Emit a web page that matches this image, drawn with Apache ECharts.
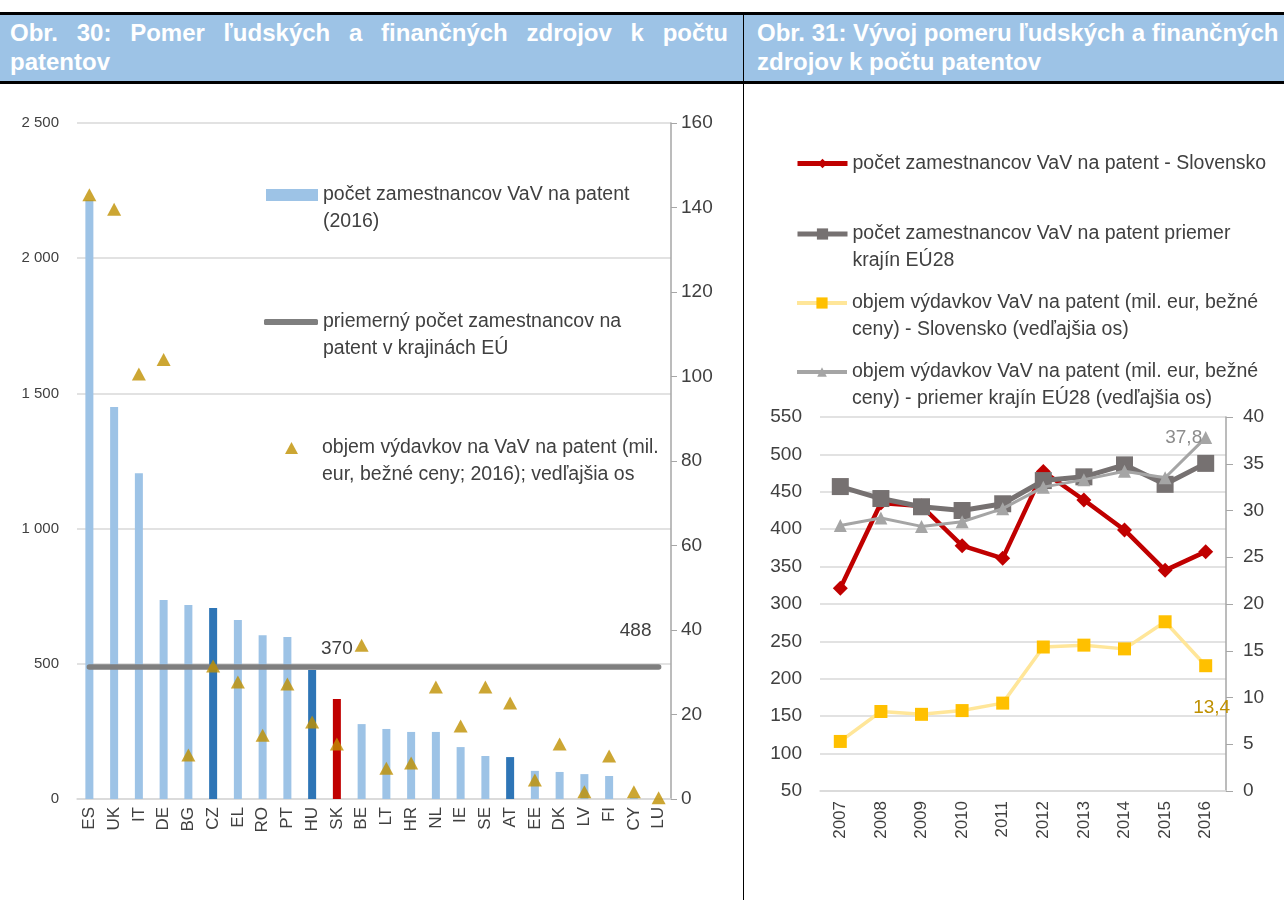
<!DOCTYPE html>
<html>
<head>
<meta charset="utf-8">
<script src="https://cdn.jsdelivr.net/npm/echarts@6/dist/echarts.min.js"></script>
<style>
  html, body { margin: 0; padding: 0; background: #fff; }
  body { width: 1284px; height: 900px; position: relative; overflow: hidden;
         font-family: "Liberation Sans", Arial, sans-serif; }
  .head { position: absolute; top: 12px; left: 0; width: 1284px; height: 66px;
          background: #9dc3e6; border-top: 3px solid #000; border-bottom: 3px solid #000; }
  .title { position: absolute; top: 3px; color: #fff; font-weight: bold; font-size: 24px; line-height: 29px; }
  .t1 { left: 10px; width: 718px; }
  .t1 .l1 { text-align: justify; text-align-last: justify; }
  .t2 { left: 757px; width: 527px; white-space: nowrap; }
  .divider { position: absolute; left: 743px; top: 12px; width: 1px; height: 888px; background: #000; }
  #chart { position: absolute; left: 0; top: 0; width: 1284px; height: 900px; }
</style>
</head>
<body>
<div id="chart"></div>
<div class="head">
  <div class="title t1"><div class="l1">Obr. 30: Pomer ľudských a finančných zdrojov k počtu</div><div>patentov</div></div>
  <div class="title t2">Obr. 31: Vývoj pomeru ľudských a finančných<br>zdrojov k počtu patentov</div>
</div>
<div class="divider"></div>
<script>
// Obr. 30 - krajiny EÚ, 2016
const countries = ['ES', 'UK', 'IT', 'DE', 'BG', 'CZ', 'EL', 'RO', 'PT', 'HU', 'SK', 'BE',
  'LT', 'HR', 'NL', 'IE', 'SE', 'AT', 'EE', 'DK', 'LV', 'FI', 'CY', 'LU']
const staffPerPatent = [2215, 1450, 1205, 736, 717, 706, 662, 606, 599, 477, 370, 277,
  259, 248, 248, 192, 159, 155, 104, 100, 92, 85, 5, 0]
const spendPerPatent = [143, 139.6, 100.6, 104, 10.4, 31.5, 27.7, 15.1, 27.2, 18.2, 13, 36.4,
  7.3, 8.5, 26.5, 17.3, 26.5, 22.7, 4.5, 13, 1.7, 10.2, 1.7, 0.3]
const euAverageStaff = 488
const darkBlueCountries = ['CZ', 'HU', 'AT']
const slovakia = 'SK'

// Obr. 31 - vývoj 2007-2016
const years = ['2007', '2008', '2009', '2010', '2011', '2012', '2013', '2014', '2015', '2016']
const staffSK = [321, 435, 431, 378, 361, 477, 439, 399, 345, 370]
const staffEU = [457, 441, 430, 425, 434, 465, 470, 486, 460, 488]
const spendSK = [5.3, 8.5, 8.2, 8.6, 9.4, 15.4, 15.6, 15.2, 18.1, 13.4]
const spendEU = [28.4, 29.2, 28.3, 28.8, 30.2, 32.5, 33.3, 34.2, 33.5, 37.8]

const nameBar = 'počet zamestnancov VaV na patent\n(2016)'
const nameAvg = 'priemerný počet zamestnancov na\npatent v krajinách EÚ'
const nameTri = 'objem výdavkov na VaV na patent (mil.\neur, bežné ceny; 2016); vedľajšia os'
const nameSK = 'počet zamestnancov VaV na patent - Slovensko'
const nameEU = 'počet zamestnancov VaV na patent priemer\nkrajín EÚ28'
const nameSpSK = 'objem výdavkov VaV na patent (mil. eur, bežné\nceny) - Slovensko (vedľajšia os)'
const nameSpEU = 'objem výdavkov VaV na patent (mil. eur, bežné\nceny) - priemer krajín EÚ28 (vedľajšia os)'

const TXT = '#404040'
const LH = 27

// empty first line keeps the legend icon level with the first text line
const twoLine = name => '\n' + name

const legendBase = (extraLeft) => ({
  padding: 0, selectedMode: false,
  textStyle: { color: TXT, fontSize: 19.5, lineHeight: LH, padding: [0, 0, 0, extraLeft || 0] }
})

const chart = echarts.init(document.getElementById('chart'))

const fmtSpace = v => String(v).replace(/\B(?=(\d{3})+(?!\d))/g, ' ')
const fmtComma = p => String(p.value).replace('.', ',')

const option = {
  animation: false,
  textStyle: { fontFamily: '"Liberation Sans", Arial, sans-serif' },
  grid: [
    { left: 77, top: 123, width: 594, height: 676 },
    { left: 820, top: 417, width: 406, height: 374 }
  ],
  legend: [
    Object.assign(legendBase(), { data: [{ name: nameBar, icon: 'rect' }], left: 266, top: 154.5,
      itemWidth: 52, itemHeight: 12, formatter: twoLine }),
    Object.assign(legendBase(), { data: [{ name: nameAvg, icon: 'roundRect' }], left: 264, top: 281.5,
      itemWidth: 54, itemHeight: 6, formatter: twoLine }),
    Object.assign(legendBase(19), { data: [{ name: nameTri, icon: 'triangle' }], left: 285, top: 407.5,
      itemWidth: 13, itemHeight: 12, formatter: twoLine }),
    Object.assign(legendBase(), { data: [nameSK], left: 795, top: 150, itemWidth: 50, itemHeight: 12,
      lineStyle: { width: 5 } }),
    Object.assign(legendBase(), { data: [nameEU], left: 795, top: 193.5, itemWidth: 50, itemHeight: 14,
      lineStyle: { width: 5 }, formatter: twoLine }),
    Object.assign(legendBase(), { data: [nameSpSK], left: 795, top: 262.5, itemWidth: 50, itemHeight: 14,
      lineStyle: { width: 4 }, formatter: twoLine }),
    Object.assign(legendBase(), { data: [nameSpEU], left: 795, top: 331.5, itemWidth: 50, itemHeight: 12,
      lineStyle: { width: 4 }, formatter: twoLine })
  ],
  xAxis: [
    {
      gridIndex: 0, type: 'category', data: countries,
      axisLine: { lineStyle: { color: '#d9d9d9', width: 1.5 } },
      axisTick: { show: false },
      axisLabel: { rotate: 90, color: TXT, fontSize: 17, margin: 8, interval: 0 }
    },
    {
      gridIndex: 1, type: 'category', data: years,
      axisLine: { lineStyle: { color: '#d9d9d9', width: 1.5 } },
      axisTick: { show: false },
      axisLabel: { rotate: 90, color: TXT, fontSize: 17, margin: 10, interval: 0 }
    }
  ],
  yAxis: [
    {
      gridIndex: 0, type: 'value', min: 0, max: 2500, interval: 500,
      axisLine: { show: false }, axisTick: { show: false },
      splitLine: { lineStyle: { color: '#d9d9d9', width: 1.5 } },
      axisLabel: { color: TXT, fontSize: 15, margin: 18, formatter: fmtSpace }
    },
    {
      gridIndex: 0, type: 'value', min: 0, max: 160, interval: 20, position: 'right',
      axisLine: { show: true, lineStyle: { color: '#a6a6a6', width: 1.5 } },
      axisTick: { show: true, length: 6, lineStyle: { color: '#a6a6a6' } },
      splitLine: { show: false },
      axisLabel: { color: TXT, fontSize: 19, margin: 10 }
    },
    {
      gridIndex: 1, type: 'value', min: 50, max: 550, interval: 50,
      axisLine: { show: false }, axisTick: { show: false },
      splitLine: { lineStyle: { color: '#d9d9d9', width: 1.5 } },
      axisLabel: { color: TXT, fontSize: 19, margin: 18 }
    },
    {
      gridIndex: 1, type: 'value', min: 0, max: 40, interval: 5, position: 'right',
      axisLine: { show: true, lineStyle: { color: '#a6a6a6', width: 1.5 } },
      axisTick: { show: true, length: 7, lineStyle: { color: '#a6a6a6' } },
      splitLine: { show: false },
      axisLabel: { color: TXT, fontSize: 19, margin: 17 }
    }
  ],
  series: [
    {
      name: nameBar, type: 'bar', xAxisIndex: 0, yAxisIndex: 0, barWidth: 8,
      itemStyle: { color: '#9dc3e6' },
      data: staffPerPatent.map((v, i) => {
        const c = countries[i]
        if (c === slovakia) {
          return { value: v, itemStyle: { color: '#c00000' },
            label: { show: true, position: 'top', offset: [0, -36], color: TXT, fontSize: 19 } }
        }
        if (darkBlueCountries.includes(c)) return { value: v, itemStyle: { color: '#2e75b6' } }
        return v
      })
    },
    {
      name: nameAvg, type: 'line', xAxisIndex: 0, yAxisIndex: 0,
      symbol: 'circle', symbolSize: 0.1, showSymbol: true,
      lineStyle: { color: '#7f7f7f', width: 5.5, cap: 'round' }, itemStyle: { color: '#7f7f7f' },
      data: countries.map((c, i) => i === countries.length - 1
        ? { value: euAverageStaff,
            label: { show: true, position: 'top', offset: [-23, -22], color: TXT, fontSize: 19 } }
        : euAverageStaff)
    },
    {
      name: nameTri, type: 'scatter', xAxisIndex: 0, yAxisIndex: 1, symbol: 'triangle', symbolSize: [14, 13],
      itemStyle: { color: '#bf9000' }, z: 5,
      data: spendPerPatent
    },
    {
      name: nameSK, type: 'line', xAxisIndex: 1, yAxisIndex: 2,
      symbol: 'diamond', symbolSize: 15, z: 3,
      lineStyle: { color: '#c00000', width: 4.5 }, itemStyle: { color: '#c00000' },
      data: staffSK
    },
    {
      name: nameEU, type: 'line', xAxisIndex: 1, yAxisIndex: 2,
      symbol: 'rect', symbolSize: 17, z: 4,
      lineStyle: { color: '#767171', width: 5 }, itemStyle: { color: '#767171' },
      data: staffEU
    },
    {
      name: nameSpSK, type: 'line', xAxisIndex: 1, yAxisIndex: 3,
      symbol: 'rect', symbolSize: 13, z: 3,
      lineStyle: { color: '#ffe699', width: 3.5 }, itemStyle: { color: '#ffc000' },
      data: spendSK.map((v, i) => i === spendSK.length - 1
        ? { value: v, label: { show: true, position: 'bottom', offset: [6, 21], color: '#bf9000', fontSize: 19,
            formatter: fmtComma } }
        : v)
    },
    {
      name: nameSpEU, type: 'line', xAxisIndex: 1, yAxisIndex: 3,
      symbol: 'triangle', symbolSize: 13, z: 5,
      lineStyle: { color: '#a5a5a5', width: 3 }, itemStyle: { color: '#a5a5a5' },
      data: spendEU.map((v, i) => i === spendEU.length - 1
        ? { value: v, label: { show: true, position: 'left', offset: [8, 0], color: '#8c8c8c', fontSize: 19,
            formatter: fmtComma } }
        : v)
    }
  ]
}

chart.setOption(option)
</script>
</body>
</html>
